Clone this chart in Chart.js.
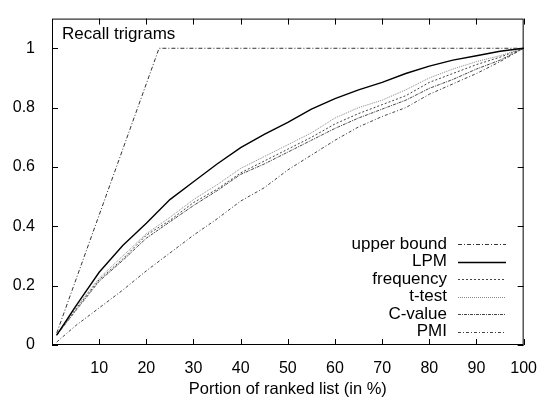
<!DOCTYPE html>
<html>
<head>
<meta charset="utf-8">
<script src="https://cdn.jsdelivr.net/npm/chart.js@4/dist/chart.umd.min.js"></script>
<style>
  body { margin: 0; background: #fff; }
  #wrap { width: 543px; height: 399px; }
</style>
</head>
<body>
<div id="wrap"><canvas id="c" width="543" height="399"></canvas></div>
<script>
// portion of ranked list (%)
const portion = [1, 5, 10, 15, 20, 25, 30, 35, 40, 45, 50, 55, 60, 65, 70, 75, 80, 85, 90, 95, 100];

const upperX = [1, 22.7, 100];
const upperY = [0.04, 1.0, 1.0];

const lpm       = [0.033, 0.13, 0.245, 0.335, 0.41, 0.49, 0.55, 0.61, 0.665, 0.71, 0.75, 0.795, 0.83, 0.86, 0.885, 0.915, 0.94, 0.96, 0.975, 0.99, 1.0];
const frequency = [0.033, 0.12, 0.22, 0.29, 0.37, 0.42, 0.48, 0.525, 0.58, 0.62, 0.66, 0.70, 0.745, 0.78, 0.81, 0.84, 0.885, 0.915, 0.945, 0.97, 1.0];
const ttest     = [0.033, 0.125, 0.225, 0.30, 0.375, 0.43, 0.49, 0.54, 0.595, 0.635, 0.675, 0.715, 0.765, 0.80, 0.825, 0.86, 0.90, 0.93, 0.955, 0.975, 1.0];
const cvalue    = [0.033, 0.115, 0.215, 0.285, 0.36, 0.415, 0.47, 0.52, 0.575, 0.61, 0.65, 0.69, 0.73, 0.765, 0.795, 0.825, 0.865, 0.895, 0.93, 0.96, 1.0];
const pmi       = [0.01, 0.065, 0.125, 0.185, 0.25, 0.31, 0.37, 0.425, 0.485, 0.53, 0.59, 0.64, 0.69, 0.735, 0.77, 0.80, 0.845, 0.88, 0.915, 0.955, 1.0];

const xTicks = [10, 20, 30, 40, 50, 60, 70, 80, 90, 100];
const yTicks = [0, 0.2, 0.4, 0.6, 0.8, 1];

const FONT = "'Liberation Sans', Arial, sans-serif";

function pts(xv, yv) {
  return xv.map((x, i) => ({x: x, y: yv[i]}));
}

function series(label, xv, yv, color, dash, width) {
  return {
    label: label,
    data: pts(xv, yv),
    borderColor: color,
    borderDash: dash,
    borderWidth: width,
    pointRadius: 0,
    fill: false,
    tension: 0,
  };
}

/* frame, inward ticks on all four sides, inner title and the gnuplot style key */
const gnuplotBits = {
  id: 'gnuplotBits',
  afterDatasetsDraw(chart) {
    const ctx = chart.ctx;
    const a = chart.chartArea;
    const xs = chart.scales.x, ys = chart.scales.y;
    ctx.save();
    ctx.strokeStyle = '#000';
    ctx.lineWidth = 1;
    ctx.setLineDash([]);
    ctx.strokeRect(a.left + 0.5, a.top + 0.5, a.right - a.left - 1, a.bottom - a.top - 1);

    ctx.beginPath();
    xTicks.forEach(v => {
      const px = Math.round(xs.getPixelForValue(v)) + 0.5;
      ctx.moveTo(px, a.bottom); ctx.lineTo(px, a.bottom - 6);
      ctx.moveTo(px, a.top); ctx.lineTo(px, a.top + 6);
    });
    yTicks.forEach(v => {
      const py = Math.round(ys.getPixelForValue(v)) + 0.5;
      ctx.moveTo(a.left, py); ctx.lineTo(a.left + 6, py);
      ctx.moveTo(a.right, py); ctx.lineTo(a.right - 6, py);
    });
    ctx.stroke();

    ctx.fillStyle = '#000';
    ctx.font = '17px ' + FONT;
    ctx.textBaseline = 'middle';
    ctx.textAlign = 'left';
    ctx.fillText('Recall trigrams', a.left + 10, a.top + 16);

    // key
    ctx.textAlign = 'right';
    chart.data.datasets.forEach((ds, i) => {
      const y = 244 + i * 17.5;
      ctx.fillStyle = '#000';
      ctx.fillText(ds.label, 447, y);
      ctx.beginPath();
      ctx.strokeStyle = ds.borderColor;
      ctx.lineWidth = ds.borderWidth;
      ctx.setLineDash(ds.borderDash);
      ctx.moveTo(458, Math.round(y) + 0.5);
      ctx.lineTo(506, Math.round(y) + 0.5);
      ctx.stroke();
    });
    ctx.restore();
  }
};

new Chart(document.getElementById('c'), {
  type: 'line',
  data: {
    datasets: [
      series('upper bound', upperX, upperY, '#333', [4, 2, 1, 2], 1),
      series('LPM', portion, lpm, '#000', [], 1.4),
      series('frequency', portion, frequency, '#444', [2, 2], 1),
      series('t-test', portion, ttest, '#888', [1, 1], 1),
      series('C-value', portion, cvalue, '#444', [3, 1, 1, 1], 1),
      series('PMI', portion, pmi, '#444', [3, 2, 1, 2], 1),
    ]
  },
  options: {
    responsive: false,
    animation: false,
    layout: {padding: {left: 0, right: 16, top: 16, bottom: 0}},
    plugins: {
      legend: {display: false},
      tooltip: {enabled: false},
    },
    scales: {
      x: {
        type: 'linear',
        min: 0,
        max: 100,
        border: {display: false},
        grid: {display: false},
        afterFit: s => { s.height = 54; },
        ticks: {
          stepSize: 10,
          color: '#000',
          padding: 6,
          maxRotation: 0,
          font: {family: FONT, size: 16},
          callback: v => (v === 0 ? '' : v),
        },
        title: {
          display: true,
          text: 'Portion of ranked list (in %)',
          color: '#000',
          font: {family: FONT, size: 16.5},
          padding: {top: 0, bottom: 0},
        },
      },
      y: {
        min: 0,
        max: 1.1,
        border: {display: false},
        grid: {display: false},
        afterFit: s => { s.width = 52; },
        ticks: {
          stepSize: 0.2,
          includeBounds: false,
          color: '#000',
          padding: 9,
          font: {family: FONT, size: 16},
          callback: v => (v > 1.01 ? '' : Math.round(v * 10) / 10),
        },
      },
    },
  },
  plugins: [gnuplotBits],
});
</script>
</body>
</html>
